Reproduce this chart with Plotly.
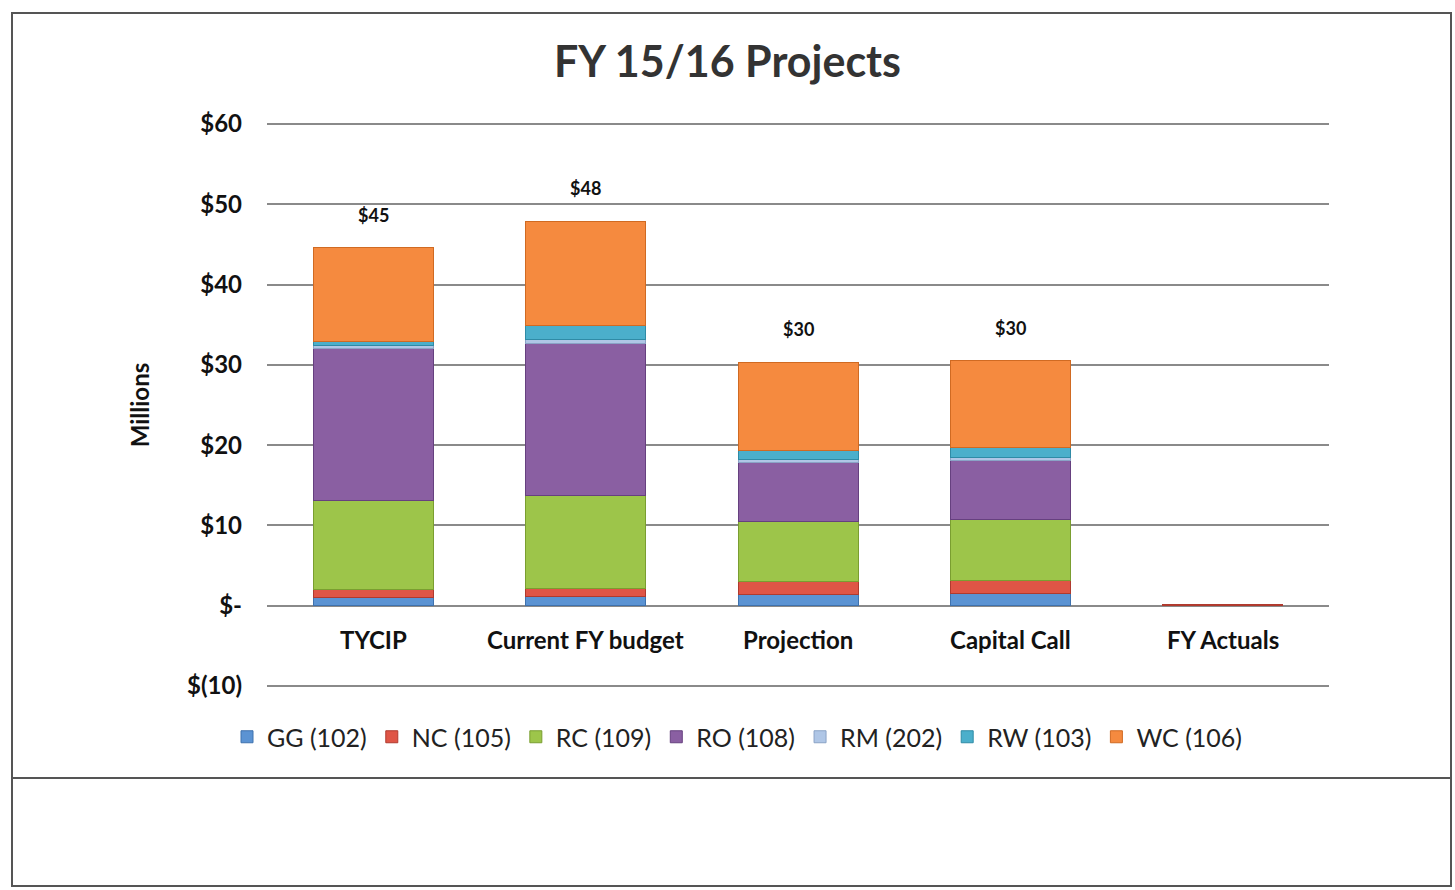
import plotly.graph_objects as go

# Categories and project-fund series (values in $ millions)
categories = ["TYCIP", "Current FY budget", "Projection", "Capital Call", "FY Actuals"]
series_names = ["GG (102)", "NC (105)", "RC (109)", "RO (108)", "RM (202)", "RW (103)", "WC (106)"]
gg = [1.0, 1.2, 1.4, 1.5, 0.0]
nc = [1.0, 0.9, 1.6, 1.6, 0.2]
rc = [11.1, 11.6, 7.5, 7.6, 0.0]
ro = [18.9, 18.9, 7.3, 7.4, 0.0]
rm = [0.4, 0.6, 0.4, 0.4, 0.0]
rw = [0.5, 1.7, 1.1, 1.2, 0.0]
wc = [11.7, 13.0, 11.0, 10.8, 0.0]
series_values = [gg, nc, rc, ro, rm, rw, wc]
series_colors = ["#5B93D3", "#DF5546", "#9DC54A", "#8A5FA2", "#AFC6E6", "#4BAFCB", "#F58A3F"]
line_colors = ["#3F72AE", "#B03A2E", "#7A9E30", "#66407F", "#8AA3C6", "#2F8BA6", "#D06A22"]

y_ticks = [-10, 0, 10, 20, 30, 40, 50, 60]
y_tick_labels = ["$(10)", "$-", "$10", "$20", "$30", "$40", "$50", "$60"]

W, H = 1455, 890
FONT = "Lato, 'Open Sans', sans-serif"

fig = go.Figure()
for name, vals, col, lc in zip(series_names, series_values, series_colors, line_colors):
    fig.add_trace(go.Bar(
        x=categories, y=vals, name=name,
        # no outline on empty segments so they leave no stray line at zero
        marker=dict(color=col, line=dict(color=lc, width=[1 if v > 0 else 0 for v in vals])),
    ))

# Stack totals shown above the first four columns
totals = [sum(v[i] for v in series_values) for i in range(len(categories))]
for cat, tot in zip(categories[:4], totals[:4]):
    fig.add_annotation(
        x=cat, y=tot, xref="x", yref="y", text=f"${round(tot):.0f}",
        showarrow=False, yanchor="bottom", yshift=20,
        font=dict(family=FONT, size=18, color="#111111", weight="bold"),
    )

# Category labels sit just under the zero line
for cat in categories:
    fig.add_annotation(
        x=cat, y=0, xref="x", yref="y", text=cat, showarrow=False,
        yanchor="top", yshift=-17,
        font=dict(family=FONT, size=24, color="#111111", weight="bold"),
    )

# Chart frame and the empty box below it
frame = dict(type="rect", xref="paper", yref="paper", line=dict(color="#555555", width=2), layer="below")
fig.add_shape(x0=12 / W, x1=1451 / W, y0=1 - 778 / H, y1=1 - 13 / H, **frame)
fig.add_shape(x0=12 / W, x1=1451 / W, y0=1 - 886 / H, y1=1 - 778 / H, **frame)

# A small pad beyond -10 and 60 so the outer grid lines are drawn
pad = 0.5
px_per_unit = (686 - 124) / 70.0

fig.update_layout(
    width=W, height=H,
    margin=dict(l=0, r=0, t=0, b=0, autoexpand=False),
    paper_bgcolor="white", plot_bgcolor="white",
    barmode="stack", bargap=0.435,
    title=dict(text="FY 15/16 Projects", x=0.5, xanchor="center", y=1 - 62 / H, yanchor="middle",
               font=dict(family=FONT, size=43, color="#333333", weight="bold")),
    xaxis=dict(domain=[267 / W, 1329 / W], showticklabels=False, showgrid=False,
               showline=False, zeroline=False, ticks=""),
    yaxis=dict(domain=[1 - (686 + pad * px_per_unit) / H, 1 - (124 - pad * px_per_unit) / H],
               range=[-10 - pad, 60 + pad],
               tickvals=y_ticks, ticktext=y_tick_labels, ticklabelstandoff=24,
               tickfont=dict(family=FONT, size=24, color="#111111", weight="bold"),
               showgrid=True, gridcolor="#8a8a8a", gridwidth=1.5,
               zeroline=True, zerolinecolor="#8a8a8a", zerolinewidth=1.5,
               showline=False, ticks="",
               title=dict(text="Millions", standoff=30,
                          font=dict(family=FONT, size=24, color="#111111", weight="bold"))),
    legend=dict(orientation="h", x=737 / W, xanchor="center", y=1 - 737 / H, yanchor="middle",
                font=dict(family=FONT, size=25, color="#222222"), traceorder="normal",
                itemwidth=30, bgcolor="rgba(0,0,0,0)"),
    showlegend=True,
)

fig.write_html("out.html")
